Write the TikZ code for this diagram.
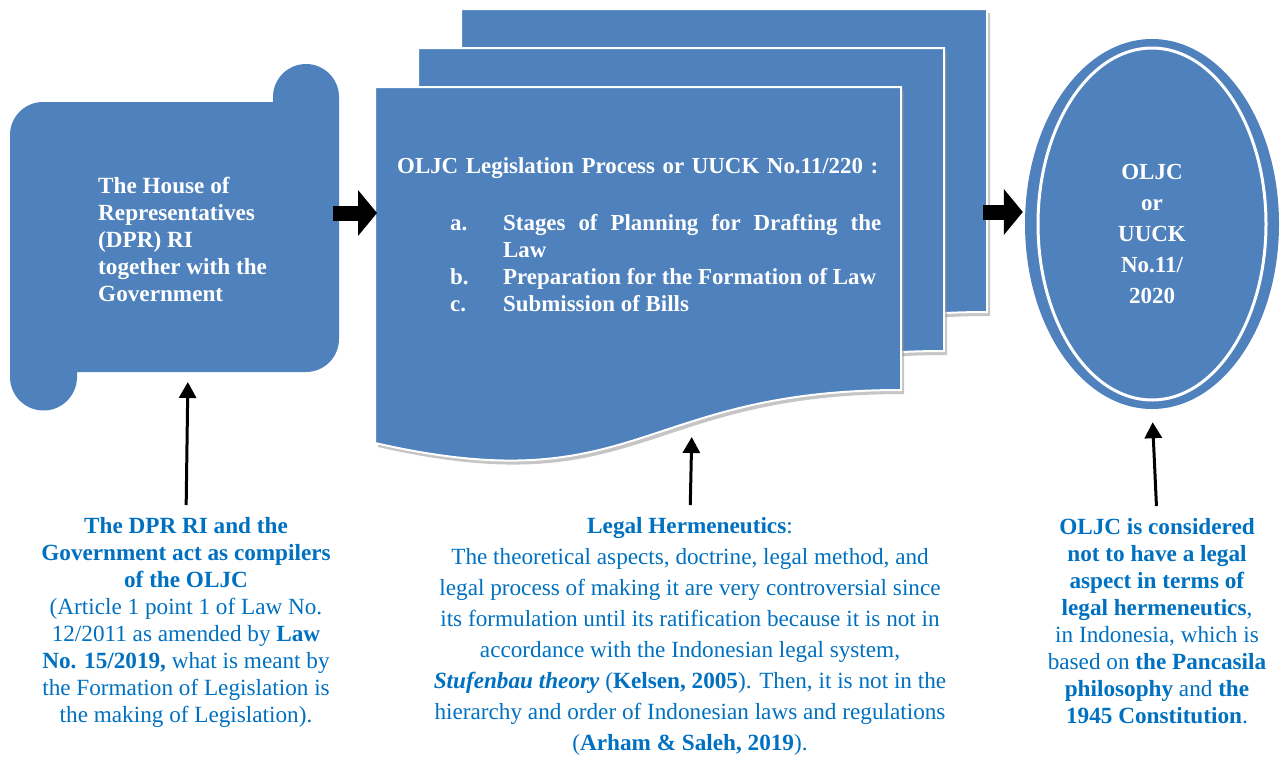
\documentclass[tikz,border=0pt]{standalone}
\usepackage{fontspec}
\setmainfont{Liberation Serif}
\usepackage{xcolor}
\usepackage{tikz}
\usepackage{array}
\definecolor{boxblue}{RGB}{79, 129, 189}
\definecolor{noteblue}{RGB}{0, 112, 192}
\usetikzlibrary{shapes.geometric, arrows.meta, positioning, shadows, calc}

\begin{document}
\begin{tikzpicture}[
    x=1pt, y=-1pt,
    sheet/.style={fill=boxblue, draw=white, line width=2pt, drop shadow={shadow xshift=3pt, shadow yshift=-4pt, fill=black!45, opacity=0.5}},
    shapetext/.style={text=white, font=\fontsize{23.2}{27}\selectfont\bfseries, align=left, inner sep=0pt},
    note/.style={text=noteblue, font=\fontsize{23.2}{27}\selectfont, align=center, inner sep=0pt},
    blockarrow/.style={line width=15pt, -{Triangle[width=45pt, length=19pt]}},
    uparrow/.style={line width=3pt, -{Triangle[width=17pt, length=16pt]}}
]
    \useasboundingbox (0,0) rectangle (1280,756);

    % Scroll shape
    \fill[boxblue] (10,135) arc[start angle=180, end angle=270, radius=33] -- (273,102) -- (273,97)
        arc[start angle=180, end angle=360, radius=33] -- (339,339)
        arc[start angle=0, end angle=90, radius=33] -- (77,372) -- (77,377)
        arc[start angle=0, end angle=180, radius=33.5] -- cycle;

    % Stacked sheets
    \foreach \sx/\sy in {461/9, 418/48, 375/87}
        \draw[sheet, shift={(\sx,\sy)}] (0,0) -- (526,0) -- (526,303) .. controls (263,303) and (263,416) .. (0,356) -- cycle;

    % Result ellipse
    \node[ellipse, fill=boxblue, minimum width=254pt, minimum height=370pt, inner sep=0pt] (oljc) at (1152,224) {};
    \draw[white, line width=3pt] (oljc.center) ellipse [x radius=114, y radius=176];

    % Texts in shapes
    \node[shapetext, anchor=north west] (house) at (98,177) {The House of\\Representatives\\(DPR) RI\\together with the\\Government};
    \node[shapetext, anchor=north west, text width=500pt, font=\fontsize{22.9}{27}\selectfont\bfseries] (proc) at (397,157) {OLJC Legislation Process or UUCK No.11/220 :\\[30pt]
        \begin{tabular}[t]{@{\hspace{53pt}}p{53pt}@{}>{\spaceskip=0.25em plus 0.25em minus 0.16em}p{378pt}@{}}
            a. & Stages of Planning for Drafting the\linebreak Law\\
            b. & Preparation for the Formation of Law\\
            c. & Submission of Bills
        \end{tabular}};
    \node[shapetext, align=center, anchor=north, font=\fontsize{23}{31}\selectfont\bfseries] (oljctext) at (1152,164) {OLJC\\or\\UUCK\\No.11/\\2020};

    % Notes
    \node[note, anchor=north] (housenote) at (186,517) {\textbf{The DPR RI and the}\\\textbf{Government act as compilers}\\\textbf{of the OLJC}\\(Article 1 point 1 of Law No.\\12/2011 as amended by \textbf{Law}\\\textbf{No. 15/2019,} what is meant by\\the Formation of Legislation is\\the making of Legislation).};
    \node[note, anchor=north, font=\fontsize{23.2}{31}\selectfont] (procnote) at (690,517) {\textbf{Legal Hermeneutics}:\\The theoretical aspects, doctrine, legal method, and\\legal process of making it are very controversial since\\its formulation until its ratification because it is not in\\accordance with the Indonesian legal system,\\\textbf{\textit{Stufenbau theory}} (\textbf{Kelsen, 2005}). Then, it is not in the\\hierarchy and order of Indonesian laws and regulations\\(\textbf{Arham \& Saleh, 2019}).};
    \node[note, anchor=north] (oljcnote) at (1157,518) {\textbf{OLJC is considered}\\\textbf{not to have a legal}\\\textbf{aspect in terms of}\\\textbf{legal hermeneutics},\\in Indonesia, which is\\based on \textbf{the Pancasila}\\\textbf{philosophy} and \textbf{the}\\\textbf{1945 Constitution}.};

    % Arrows
    \coordinate (houseR) at (333,213);
    \coordinate (procL) at (377,213);
    \coordinate (procR) at (983,212);
    \coordinate (houseS) at (188,372);
    \coordinate (procS) at (692,425);
    \draw[blockarrow] (houseR) -- (procL);
    \draw[blockarrow, shorten >=2pt] (procR) -- (procR -| oljc.west);
    \draw[uparrow, shorten <=12pt, shorten >=10pt] (housenote.north) -- (houseS);
    \draw[uparrow, shorten <=12pt, shorten >=12pt] (procnote.north) -- (procS);
    \draw[uparrow, shorten <=12pt, shorten >=13pt] (oljcnote.north) -- (oljc.south);
\end{tikzpicture}
\end{document}
